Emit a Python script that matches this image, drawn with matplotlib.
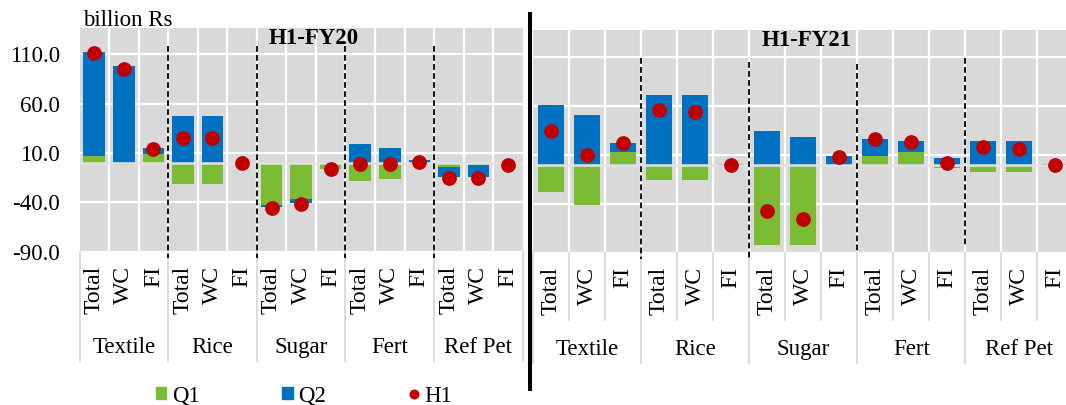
import numpy as np
import matplotlib
matplotlib.use("Agg")
import matplotlib.pyplot as plt
from matplotlib.patches import Patch
from matplotlib.lines import Line2D

plt.rcParams["font.family"] = ["Liberation Serif", "DejaVu Serif"]

# categories
groups = ["Textile", "Rice", "Sugar", "Fert", "Ref Pet"]
subcats = ["Total", "WC", "FI"]

# H1-FY20, billion Rs (Textile Total/WC/FI, Rice ..., Sugar ..., Fert ..., Ref Pet ...)
q1_fy20 = [7, -2.5, 9.5, -21, -21, 0, -43, -37, -6, -18.5, -16.5, -2.5, -4.5, -2.5, -2]
q2_fy20 = [105, 98, 5.5, 47.5, 47.5, 0, -2, -4, 0, 19.5, 15.5, 3, -10, -12, 0]
h1_fy20 = [111.5, 95.5, 14.5, 25, 25, 0, -45.5, -41.5, -6, -1, -1.5, 0.5, -15, -15.5, -2]

# H1-FY21, billion Rs
q1_fy21 = [-27, -41, 13, -15, -15, 0, -82, -82, 0, 9, 13, -3, -7, -7, 0]
q2_fy21 = [61.5, 51.5, 9.5, 71.5, 71.5, 1.5, 35, 29, 9, 18, 12, 7, 25, 25, 1.5]
h1_fy21 = [34.5, 10.5, 22.5, 56.5, 54.5, 0, -46.5, -54.5, 8, 26.5, 24, 2.5, 18, 16.5, 0]

yticks = [-90, -40, 10, 60, 110]

GREEN = "#7cbb34"
BLUE = "#0070c0"
RED = "#c00000"
BG = "#d9d9d9"
FS = 16.5      # general text
FS_SUB = 17    # rotated Total / WC / FI


def stack_base(q1, q2):
    # excel stacks positives and negatives separately
    q1 = np.array(q1, dtype=float)
    q2 = np.array(q2, dtype=float)
    return np.where(np.sign(q1) == np.sign(q2), q1, 0.0)


def draw_panel(ax, q1, q2, h1, ylim, dash_top, dash_bot, show_y, sub_lines):
    x = np.arange(len(q1))
    ax.set_facecolor(BG)
    ax.bar(x, q1, width=0.73, color=GREEN, zorder=2)
    ax.bar(x, q2, width=0.73, bottom=stack_base(q1, q2), color=BLUE, zorder=2)
    ax.axhline(0, color="#e2e2e2", lw=1.8, zorder=3)
    ax.plot(x, h1, "o", color=RED, ms=9.6, zorder=4)

    ax.set_xlim(-0.5, len(q1) - 0.5)
    ax.set_ylim(*ylim)
    ax.set_yticks(yticks)
    ax.set_xticks(np.arange(0.5, len(q1) - 1, 1.0), minor=True)
    ax.set_xticks([])
    ax.grid(axis="y", color="white", lw=1.6, zorder=1)
    ax.grid(axis="x", which="minor", color="white", lw=1.6, zorder=1)
    ax.set_axisbelow(True)
    for s in ax.spines.values():
        s.set_visible(False)
    ax.tick_params(axis="both", which="both", length=0)
    if show_y:
        ax.set_yticklabels([f"{t:.1f}" for t in yticks], fontsize=FS)
        ax.tick_params(axis="y", pad=14)
    else:
        ax.set_yticklabels([])

    # dashed group separators
    for g in range(1, len(groups)):
        xb = 3 * g - 0.5
        ax.plot([xb, xb], [dash_top[g - 1], dash_bot[g - 1]], color="black", lw=1.3,
                linestyle=(0, (3.2, 1.8)), clip_on=False, zorder=5)

    # category labels
    tr = ax.get_xaxis_transform()
    for i in x:
        ax.annotate(subcats[i % 3], xy=(i, 0), xycoords=tr, xytext=(0, -10),
                    textcoords="offset points", rotation=90, ha="center", va="top",
                    fontsize=FS_SUB)
    for g, name in enumerate(groups):
        ax.annotate(name, xy=(3 * g + 1, 0), xycoords=tr, xytext=(0, -69),
                    textcoords="offset points", ha="center", va="center", fontsize=FS)
    for g in range(len(groups) + 1):
        xb = 3 * g - 0.5
        ax.plot([xb, xb], [0, -0.49], color=BG, lw=1.3, transform=tr, clip_on=False)
    if sub_lines:
        for i in range(len(q1)):
            if i % 3 != 0:
                xb = i - 0.5
                ax.plot([xb, xb], [0, -0.3], color=BG, lw=1.3, transform=tr, clip_on=False)


fig = plt.figure(figsize=(10.66, 4.05), dpi=100)
ax1 = fig.add_axes([0.07458, 0.37852, 0.41576, 0.55309])
ax2 = fig.add_axes([0.50028, 0.37457, 0.50657, 0.55136])

draw_panel(ax1, q1_fy20, q2_fy20, h1_fy20, (-90, 137),
           [118, 118, 118, 118], [-96, -96, -96, -96], True, False)
draw_panel(ax2, q1_fy21, q2_fy21, h1_fy21, (-88, 137.8),
           [109, 105, 103, 109], [-96, -96, -88, -84], False, True)

fig.text(314 / 1066, 1 - 38 / 405, "H1-FY20", fontsize=FS, fontweight="bold",
         ha="center", va="center")
fig.text(807 / 1066, 1 - 41 / 405, "H1-FY21", fontsize=FS, fontweight="bold",
         ha="center", va="center")
fig.text(83 / 1066, 1 - 26.5 / 405, "billion Rs", fontsize=FS, ha="left", va="baseline")

# thick divider between the two panels
fig.add_artist(Line2D([529.5 / 1066, 529.5 / 1066], [1 - 14 / 405, 1 - 389 / 405],
                      color="black", lw=2.9, transform=fig.transFigure))

handles = [Patch(color=GREEN), Patch(color=BLUE),
           Line2D([], [], marker="o", color=RED, ls="none", ms=6.2)]
fig.legend(handles, ["Q1", "Q2", "H1"], ncol=3, loc="center left",
           bbox_to_anchor=(156 / 1066, 1 - 396 / 405), frameon=False, fontsize=FS,
           handlelength=0.45, handleheight=0.45, handletextpad=0.25,
           columnspacing=3.6, borderpad=0, borderaxespad=0)

fig.savefig("out.png", dpi=100)
